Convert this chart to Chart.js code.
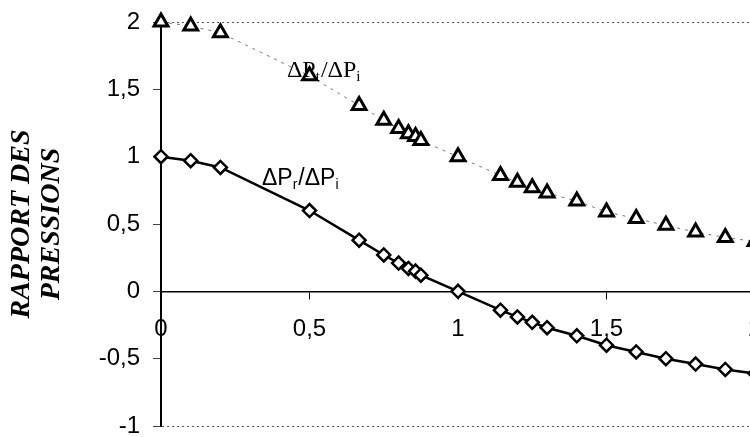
<!DOCTYPE html>
<html>
<head>
<meta charset="utf-8">
<script src="https://cdn.jsdelivr.net/npm/chart.js@4"></script>
<style>
    html, body { margin: 0; padding: 0; background: #fff; overflow: hidden; }
    #wrap { width: 775px; height: 437px; position: relative; }
</style>
</head>
<body>
<div id="wrap"><canvas id="pressChart"></canvas></div>
<script>
//-- data --
const xValues = [0, 0.1, 0.2, 0.5, 0.667, 0.75, 0.8, 0.833, 0.857, 0.875, 1, 1.143, 1.2, 1.25, 1.3, 1.4, 1.5, 1.6, 1.7, 1.8, 1.9, 2];
const ratioPr = [1, 0.97, 0.92, 0.6, 0.38, 0.27, 0.21, 0.17, 0.15, 0.12, 0, -0.14, -0.19, -0.23, -0.27, -0.33, -0.40, -0.45, -0.50, -0.54, -0.58, -0.61];
const ratioPt = [2, 1.97, 1.92, 1.6, 1.38, 1.27, 1.21, 1.17, 1.15, 1.12, 1.0, 0.86, 0.81, 0.77, 0.73, 0.67, 0.59, 0.54, 0.49, 0.44, 0.40, 0.37];
const yTitle = ['RAPPORT DES', 'PRESSIONS'];

//-- series labels: position in data units, fonts, parts (alternate normal / subscript) --
const seriesLabels = [
    { x: 0.424, y: 1.595, font: '24px "Liberation Serif"', sub: '15px "Liberation Serif"', parts: ['ΔP', 't', '/ΔP', 'i'] },
    { x: 0.34, y: 0.79, font: '23px "Liberation Sans"', sub: '14px "Liberation Sans"', parts: ['ΔP', 'r', '/ΔP', 'i'] }
];

const toPoints = (ys) => xValues.map((x, i) => ({ x, y: ys[i] }));
const commaFmt = (v) => String(v).replace('.', ',');

//-- plugin that writes the series names with subscripts --
const labelPlugin = {
    id: 'seriesLabels',
    afterDatasetsDraw(chart) {
        const { ctx, scales } = chart;
        ctx.save();
        ctx.fillStyle = '#000';
        ctx.textBaseline = 'alphabetic';
        seriesLabels.forEach(lbl => {
            let px = scales.x.getPixelForValue(lbl.x);
            const py = scales.y.getPixelForValue(lbl.y);
            lbl.parts.forEach((txt, i) => {
                const isSub = i % 2 === 1;
                ctx.font = isSub ? lbl.sub : lbl.font;
                ctx.fillText(txt, px, isSub ? py + 4 : py);
                px += ctx.measureText(txt).width + (isSub ? 1 : 0);
            });
        });
        ctx.restore();
    }
};

new Chart(document.getElementById('pressChart').getContext('2d'), {
    type: 'scatter',
    data: {
        datasets: [
            {
                label: 'ΔPt/ΔPi',
                data: toPoints(ratioPt),
                showLine: true,
                borderColor: '#777',
                borderWidth: 1,
                borderDash: [3, 5],
                pointStyle: 'triangle',
                pointRadius: 8,
                pointBorderWidth: 3,
                pointBorderColor: '#000',
                pointBackgroundColor: '#fff',
                clip: false
            },
            {
                label: 'ΔPr/ΔPi',
                data: toPoints(ratioPr),
                showLine: true,
                borderColor: '#000',
                borderWidth: 2.5,
                pointStyle: 'rectRot',
                pointRadius: 6.5,
                pointBorderWidth: 2.5,
                pointBorderColor: '#000',
                pointBackgroundColor: '#fff',
                clip: false
            }
        ]
    },
    options: {
        responsive: true,
        maintainAspectRatio: false,
        animation: false,
        layout: { padding: { left: 0, right: 20, top: 22, bottom: 5 } },
        plugins: {
            legend: { display: false },
            tooltip: { enabled: false }
        },
        scales: {
            x: {
                type: 'linear',
                position: { y: 0 },
                min: 0,
                max: 2,
                //-- axis sits inside the plot, so it must not take layout room --
                afterFit: (scale) => { scale.height = 0; scale.paddingLeft = 0; scale.paddingRight = 0; },
                ticks: {
                    stepSize: 0.5,
                    color: '#000',
                    padding: 17,
                    font: { family: '"Liberation Sans"', size: 24 },
                    callback: commaFmt
                },
                grid: { drawOnChartArea: false, drawTicks: true, tickLength: 7, tickColor: '#000', tickWidth: 1 },
                border: { display: true, color: '#000', width: 1.5 }
            },
            y: {
                min: -1,
                max: 2,
                afterFit: (scale) => { scale.width = 161; scale.paddingTop = 0; scale.paddingBottom = 0; },
                ticks: {
                    stepSize: 0.5,
                    color: '#000',
                    padding: 13,
                    font: { family: '"Liberation Sans"', size: 24 },
                    callback: commaFmt
                },
                grid: {
                    //-- only the top and bottom dotted frame lines --
                    color: (c) => (c.tick && (c.tick.value === 2 || c.tick.value === -1)) ? '#555' : 'rgba(0,0,0,0)',
                    lineWidth: 1,
                    tickLength: 8,
                    tickColor: '#444',
                    tickWidth: 1
                },
                border: { display: true, color: '#000', width: 2, dash: [2, 3] },
                title: {
                    display: true,
                    text: yTitle,
                    color: '#000',
                    padding: { top: 7, bottom: 0 },
                    font: { family: '"Liberation Serif"', size: 28, style: 'italic', weight: 'bold', lineHeight: 1.07 }
                }
            }
        }
    },
    plugins: [labelPlugin]
});
</script>
</body>
</html>
